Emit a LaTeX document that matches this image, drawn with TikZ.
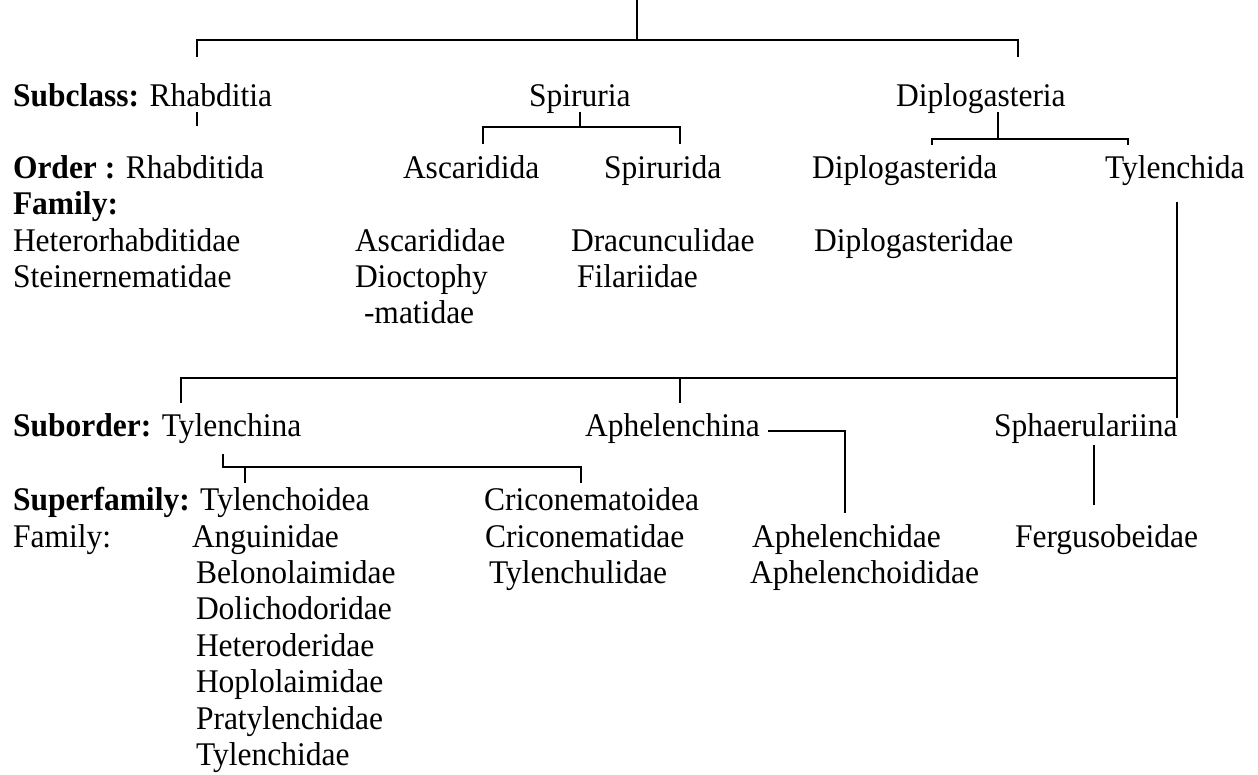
\documentclass[tikz,border=0pt]{standalone}
\usepackage{fontspec}
\setmainfont{Liberation Serif}
\begin{document}
\begin{tikzpicture}[x=1pt,y=-1pt,
  lbl/.style={anchor=base west,inner sep=0pt,outer sep=0pt,yscale=1.05,font=\fontsize{31.5}{36}\selectfont},
  conn/.style={line width=2pt}]
\useasboundingbox (0,0) rectangle (1258,774);
% ---------- texts ----------
\node[lbl] (subclass) at (13,106) {\textbf{Subclass:} Rhabditia};
\node[lbl] (spiruria) at (529,106) {Spiruria};
\node[lbl] (diplogasteria) at (896,106) {Diplogasteria};
\node[lbl] (order) at (13,178) {\textbf{Order :} Rhabditida};
\node[lbl] (ascaridida) at (403,178) {Ascaridida};
\node[lbl] (spirurida) at (604,178) {Spirurida};
\node[lbl] (diplogasterida) at (812,178) {Diplogasterida};
\node[lbl] (tylenchida) at (1105,178) {Tylenchida};
\node[lbl] (familyA) at (13,214) {\textbf{Family:}};
\node[lbl] (heterorh) at (13,251) {Heterorhabditidae};
\node[lbl] (steinern) at (13,287) {Steinernematidae};
\node[lbl] (ascarididae) at (355,251) {Ascarididae};
\node[lbl] (dioctophy) at (355,287) {Dioctophy};
\node[lbl] (matidae) at (364,323) {-matidae};
\node[lbl] (dracunc) at (571,251) {Dracunculidae};
\node[lbl] (filariidae) at (577,287) {Filariidae};
\node[lbl] (diplogasteridae) at (814,251) {Diplogasteridae};
\node[lbl] (suborder) at (13,436) {\textbf{Suborder:} Tylenchina};
\node[lbl] (aphelenchina) at (585,436) {Aphelenchina};
\node[lbl] (sphaer) at (994,436) {Sphaerulariina};
\node[lbl] (superfamily) at (13,510) {\textbf{Superfamily:} Tylenchoidea};
\node[lbl] (criconematoidea) at (484,510) {Criconematoidea};
\node[lbl] (familyB) at (13,547) {Family:};
\node[lbl] (anguinidae) at (192,547) {Anguinidae};
\node[lbl] (belono) at (196,583) {Belonolaimidae};
\node[lbl] (dolicho) at (196,619) {Dolichodoridae};
\node[lbl] (heterod) at (196,656) {Heteroderidae};
\node[lbl] (hoplo) at (196,692) {Hoplolaimidae};
\node[lbl] (praty) at (196,729) {Pratylenchidae};
\node[lbl] (tylenchidae) at (196,765) {Tylenchidae};
\node[lbl] (criconematidae) at (485,547) {Criconematidae};
\node[lbl] (tylenchulidae) at (489,583) {Tylenchulidae};
\node[lbl] (aphelenchidae) at (752,547) {Aphelenchidae};
\node[lbl] (aphelenchoid) at (750,583) {Aphelenchoididae};
\node[lbl] (fergus) at (1015,547) {Fergusobeidae};
% ---------- connector coordinates ----------
\coordinate (root) at (637,0);
\coordinate (rootj) at (637,40);
\coordinate (subclassT) at (197,57);
\coordinate (diplogasteriaT) at (1018,57);
\coordinate (rhabB) at (197,112);
\coordinate (orderT) at (197,126);
\coordinate (spiruriaB) at (580,112);
\coordinate (spiruriaJ) at (580,127);
\coordinate (ascarididaT) at (483,144);
\coordinate (spiruridaT) at (680,144);
\coordinate (diplogasteriaB) at (998,112);
\coordinate (diplogasteriaJ) at (998,139);
\coordinate (diplogasteridaT) at (932,145);
\coordinate (tylenchidaT) at (1128,145);
\coordinate (tylenchidaB) at (1177,202);
\coordinate (subJ) at (1177,378);
\coordinate (sphaerT) at (1177,418);
\coordinate (suborderT) at (181,403);
\coordinate (aphelenchinaJ) at (680,378);
\coordinate (aphelenchinaT) at (680,403);
\coordinate (tylenchinaB) at (223,454);
\coordinate (tylenchinaJ) at (223,467);
\coordinate (tylenchoideaT) at (245,483);
\coordinate (criconematoideaT) at (581,483);
\coordinate (aphelenchinaR) at (768,431);
\coordinate (aphelenchidaeT) at (845,513);
\coordinate (sphaerB) at (1094,445);
\coordinate (fergusT) at (1094,505);
% ---------- connectors ----------
\draw[conn] (root) -- (rootj);
\draw[conn] (subclassT) |- (rootj) -| (diplogasteriaT);
\draw[conn] (rhabB) -- (orderT);
\draw[conn] (spiruriaB) -- (spiruriaJ);
\draw[conn] (ascarididaT) |- (spiruriaJ) -| (spiruridaT);
\draw[conn] (diplogasteriaB) -- (diplogasteriaJ);
\draw[conn] (diplogasteridaT) |- (diplogasteriaJ) -| (tylenchidaT);
\draw[conn] (tylenchidaB) -- (sphaerT);
\draw[conn] (suborderT) |- (subJ);
\draw[conn] (aphelenchinaJ) -- (aphelenchinaT);
\draw[conn] (tylenchinaB) -- (tylenchinaJ) -| (criconematoideaT);
\draw[conn] (tylenchoideaT) -- (tylenchoideaT |- tylenchinaJ);
\draw[conn] (aphelenchinaR) -| (aphelenchidaeT);
\draw[conn] (sphaerB) -- (fergusT);
\end{tikzpicture}
\end{document}
